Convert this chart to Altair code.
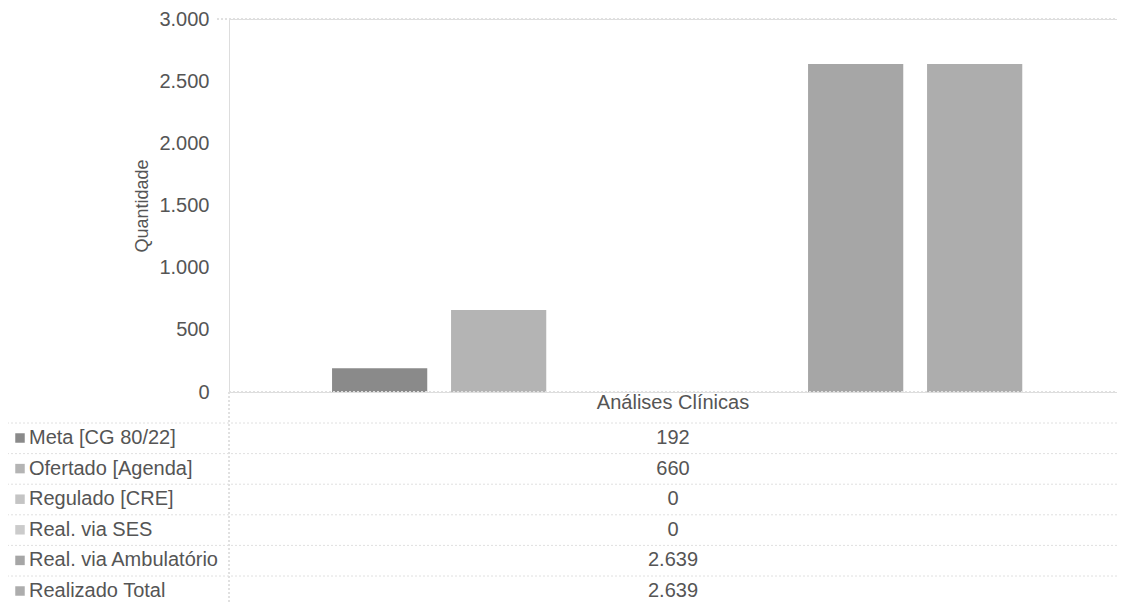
import altair as alt
import pandas as pd

# ---- data ----
category = ["Análises Clínicas"]
series = [
    "Meta [CG 80/22]",
    "Ofertado [Agenda]",
    "Regulado [CRE]",
    "Real. via SES",
    "Real. via Ambulatório",
    "Realizado Total",
]
values = [192, 660, 0, 0, 2639, 2639]
value_labels = ["192", "660", "0", "0", "2.639", "2.639"]
colors = ["#8a8a8a", "#b4b4b4", "#c4c4c4", "#cbcbcb", "#a6a6a6", "#adadad"]
y_ticks = [0, 500, 1000, 1500, 2000, 2500, 3000]

df = pd.DataFrame({
    "categoria": category * len(series),
    "serie": series,
    "valor": values,
    "rotulo": value_labels,
})

W, H = 888, 373
TOP = 11
FONT = "Liberation Sans"
TXT = "#555555"
LINE = "#e0e0e0"

color_scale = alt.Scale(domain=series, range=colors)
row_scale = alt.Scale(type="point", domain=series, range=[422 - 3, 575 - 3], padding=0)

x_enc = alt.X(
    "categoria:N",
    scale=alt.Scale(paddingInner=0, paddingOuter=0),
    axis=alt.Axis(
        title=None, labelFontSize=20, labelColor=TXT, labelFont=FONT,
        labelPadding=0, ticks=False, tickSize=0, domain=False, labelAngle=0,
        labelBaseline="top",
    ),
)

bars = alt.Chart(df).mark_bar().encode(
    x=x_enc,
    xOffset=alt.XOffset(
        "serie:N", sort=series,
        scale=alt.Scale(paddingInner=0.2, paddingOuter=0.831, align=0.521),
    ),
    y=alt.Y(
        "valor:Q",
        scale=alt.Scale(domain=[0, 3000], nice=False),
        axis=alt.Axis(
            title="Quantidade", values=y_ticks,
            labelExpr="replace(format(datum.value, ',d'), ',', '.')",
            labelFontSize=20, labelColor=TXT, labelFont=FONT, labelPadding=20,
            ticks=False, domain=False, grid=False,
            titleFontSize=18, titleFont=FONT, titleColor=TXT, titleFontWeight="normal",
            titleX=-87, titleY=H / 2, titleAngle=-90, titleBaseline="middle",
        ),
    ),
    color=alt.Color("serie:N", scale=color_scale, legend=None),
)

# faint top frame line and table grid lines
top_line = alt.Chart(df).mark_rule(color=LINE, strokeDash=[2, 2]).encode(
    x=alt.value(-12), x2=alt.value(W), y=alt.value(0)
)
table_top = alt.Chart(df).mark_rule(color=LINE, strokeDash=[2, 2]).encode(
    x=alt.value(0), x2=alt.value(W), y=alt.value(H)
)
table_vline = alt.Chart(df).mark_rule(color=LINE, strokeDash=[2, 2]).encode(
    x=alt.value(0), y=alt.value(H), y2=alt.value(H + 240)
)
table_left = alt.Chart(df).mark_rule(color=LINE, strokeDash=[2, 2]).encode(
    x=alt.value(-226), y=alt.value(H + 30), y2=alt.value(H + 240)
)
row_lines = alt.Chart(df).mark_rule(color=LINE, strokeDash=[2, 2], yOffset=-15).encode(
    x=alt.value(-226), x2=alt.value(W),
    y=alt.Y("serie:N", scale=row_scale, axis=None),
)

# data table: values column
table_values = alt.Chart(df).mark_text(
    fontSize=20, font=FONT, color=TXT, align="center", baseline="middle"
).encode(
    x=alt.X("categoria:N"),
    y=alt.Y("serie:N", scale=row_scale, axis=None),
    text="rotulo:N",
)

# data table: legend keys and series names
table_keys = alt.Chart(df).mark_square(size=90, opacity=1, filled=True).encode(
    x=alt.value(-209),
    y=alt.Y("serie:N", scale=row_scale, axis=None),
    color=alt.Color("serie:N", scale=color_scale, legend=None),
)
table_names = alt.Chart(df).mark_text(
    fontSize=20, font=FONT, color=TXT, align="left", baseline="middle"
).encode(
    x=alt.value(-200),
    y=alt.Y("serie:N", scale=row_scale, axis=None),
    text="serie:N",
)

chart = alt.layer(
    bars, top_line, table_top, table_vline, table_left, row_lines,
    table_values, table_keys, table_names,
).resolve_scale(
    y="independent", color="shared"
).properties(
    width=W, height=H,
    autosize=alt.AutoSizeParams(type="none"),
    padding={"left": 221, "top": TOP, "right": 0, "bottom": 212},
).configure_view(strokeWidth=0).configure(background="white")

chart.save("out.html", embed_options={"renderer": "svg", "actions": False})
